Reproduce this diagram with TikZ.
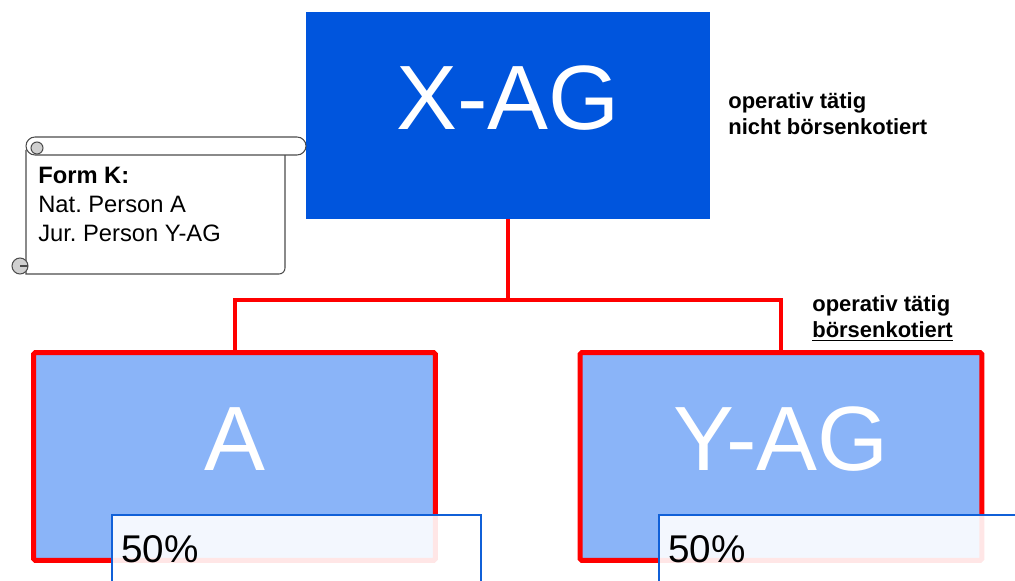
\documentclass[tikz,border=0pt]{standalone}
\usepackage{fontspec}
\setmainfont{Liberation Sans}
\usepackage{tikz}
\usetikzlibrary{positioning}
\frenchspacing

\definecolor{xblue}{HTML}{0055DD}
\definecolor{lightbox}{HTML}{8AB4F8}
\definecolor{pctblue}{HTML}{1060D8}
\definecolor{curlgray}{HTML}{D0D0D0}

\begin{document}
\begin{tikzpicture}[
    x=0.02cm, y=-0.02cm,
    topbox/.style={
        rectangle,
        fill=xblue,
        inner sep=0pt,
        minimum width=8.08cm,
        minimum height=4.14cm,
        text=white,
        text depth=0.72cm,
        font=\fontsize{52}{60}\selectfont
    },
    subbox/.style={
        rectangle,
        draw=red,
        line width=5pt*0.569,
        rounded corners=1pt,
        fill=lightbox,
        inner sep=0pt,
        minimum width=8.04cm,
        minimum height=4.16cm,
        text=white,
        text depth=0.7cm,
        font=\fontsize{52}{60}\selectfont
    },
    pctbox/.style={
        rectangle,
        draw=pctblue,
        line width=1.2pt,
        fill=white,
        fill opacity=0.9,
        text opacity=1,
        anchor=west,
        align=left,
        inner xsep=0.18cm,
        inner ysep=0pt,
        text width=7.02cm,
        minimum height=1.36cm,
        font=\fontsize{22}{26}\selectfont
    },
    note/.style={
        anchor=north west,
        align=left,
        inner sep=0pt,
        font=\bfseries\fontsize{12.5}{15}\selectfont
    },
    scrollline/.style={draw=black!70, line width=0.6pt},
    link/.style={draw=red, line width=4pt*0.569}
]
    \clip (0,0) rectangle (1015,581);

    % boxes
    \node[topbox] (xag) at (508,115.5) {X-AG};
    \node[subbox] (a) at (234.5,456.5) {A};
    \node[subbox] (yag) at (781,456.5) {Y-AG};

    % connectors
    \draw[link] (xag.south) -- ++(0,81) -| (a.north);
    \draw[link] (xag.south) -- ++(0,81) -| (yag.north);

    % percentage boxes
    \node[pctbox] (pcta) at (111,549) {50\%};
    \node[pctbox] (pctyag) at (658,549) {50\%};

    % notes
    \node[note] (notexag) at (728,92) {operativ tätig\\nicht börsenkotiert};
    \node[note] (noteyag) at (812,295) {operativ tätig\\\underline{börsenkotiert}};

    % scroll (y axis points down, so arcs run the other way)
    \filldraw[scrollline, fill=white] (26,150) -- (26,274) -- (279,274)
        arc (90:0:6) -- (285,155);
    \filldraw[scrollline, fill=white] (35,137) -- (297,137) arc (-90:90:9)
        -- (35,155) arc (90:270:9);
    \filldraw[scrollline, fill=curlgray] (37,148) circle (6);
    \filldraw[scrollline, fill=curlgray] (20,266) circle (8);
    \draw[scrollline] (20,266) -- (28,266);
    \node[anchor=north west, align=left, inner sep=0pt,
          font=\fontsize{13.5}{16.5}\selectfont] (formk) at (38,167)
        {\textbf{Form K:}\\Nat. Person A\\Jur. Person Y-AG};
\end{tikzpicture}
\end{document}
